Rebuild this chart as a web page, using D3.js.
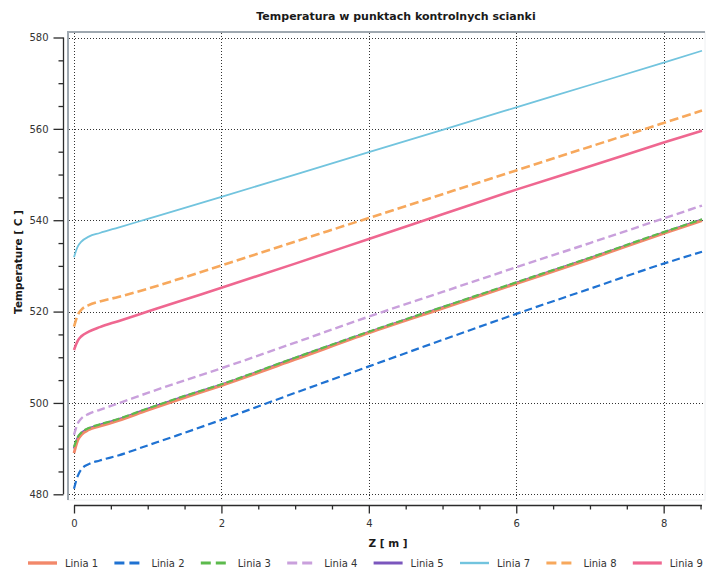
<!DOCTYPE html>
<html>
<head>
<meta charset="utf-8">
<script src="https://cdn.jsdelivr.net/npm/d3@7"></script>
<style>
  body { margin: 0; background: #fff; }
  text { font-family: "DejaVu Sans", Verdana, sans-serif; }
</style>
</head>
<body>
<script>
// z positions along the wall [m], shared by all series
var zValues = [0, 0.05, 0.1, 0.2, 0.35, 0.6, 1, 1.4, 2, 3, 4, 5, 6, 7, 8, 8.52];

var linia1 = [489.0, 491.8, 493.0, 494.1, 494.9, 496.1, 498.4, 500.6, 503.8, 509.5, 515.3, 520.7, 526.1, 531.5, 537.1, 539.9];
var linia2 = [481.2, 484.0, 485.5, 486.6, 487.4, 488.5, 490.7, 492.9, 496.3, 502.2, 508.0, 513.8, 519.5, 525.0, 530.5, 533.1];
var linia3 = [490.4, 492.5, 493.5, 494.5, 495.3, 496.5, 498.8, 501.0, 504.1, 509.9, 515.6, 521.0, 526.4, 531.8, 537.4, 540.2];
var linia4 = [493.0, 495.5, 496.6, 497.6, 498.5, 499.9, 502.2, 504.4, 507.6, 513.2, 518.9, 524.3, 529.7, 535.0, 540.4, 543.2];
var linia5 = [490.0, 492.3, 493.4, 494.4, 495.2, 496.4, 498.7, 500.9, 504.0, 509.8, 515.5, 520.9, 526.3, 531.7, 537.3, 540.1];
var linia7 = [531.9, 534.2, 535.3, 536.4, 537.2, 538.4, 540.3, 542.2, 545.1, 550.0, 554.9, 559.8, 564.7, 569.6, 574.5, 577.1];
var linia8 = [516.7, 519.2, 520.4, 521.4, 522.2, 523.2, 525.0, 527.0, 530.1, 535.3, 540.5, 545.7, 550.9, 556.1, 561.3, 564.0];
var linia9 = [511.6, 513.6, 514.6, 515.6, 516.6, 517.9, 520.0, 522.1, 525.2, 530.5, 535.9, 541.3, 546.7, 551.8, 557.0, 559.6];

var seriesNames = ["Linia 1", "Linia 2", "Linia 3", "Linia 4", "Linia 5", "Linia 7", "Linia 8", "Linia 9"];
var seriesValues = [linia1, linia2, linia3, linia4, linia5, linia7, linia8, linia9];

var yTicks = [480, 500, 520, 540, 560, 580];
var xTicks = [0, 2, 4, 6, 8];

// styles per series (same order as names)
var styles = [
  {color: "#f2886a", width: 2.8, dash: null},
  {color: "#1f72d2", width: 2.2, dash: "8,4"},
  {color: "#5cba4c", width: 2.2, dash: "7,3"},
  {color: "#c9a0dc", width: 2.4, dash: "8,4"},
  {color: "#7b56bd", width: 2.4, dash: null},
  {color: "#72c4de", width: 1.8, dash: null},
  {color: "#f7a85c", width: 2.6, dash: "9,4"},
  {color: "#ef6790", width: 2.6, dash: null}
];
var drawOrder = [4, 0, 1, 2, 3, 5, 6, 7];

var width = 712;
var height = 574;

var svg = d3.select("body")
  .append("svg")
  .attr("width", width)
  .attr("height", height);

var x = d3.scaleLinear().domain([0, 8.52]).range([74, 702]);
var y = d3.scaleLinear().domain([480, 580]).range([494.3, 37.5]);

var canvas = {left: 68, top: 32, right: 705, bottom: 500};

// title
svg.append("text")
  .attr("x", 396)
  .attr("y", 20)
  .attr("text-anchor", "middle")
  .style("font-size", "11px")
  .style("font-weight", "bold")
  .attr("fill", "#1a1a1a")
  .text("Temperatura w punktach kontrolnych scianki");

// plot canvas frame
svg.append("rect")
  .attr("x", canvas.left)
  .attr("y", canvas.top)
  .attr("width", canvas.right - canvas.left)
  .attr("height", canvas.bottom - canvas.top)
  .attr("fill", "#fff")
  .attr("stroke", "#eef0f2")
  .attr("stroke-width", 1);

svg.append("path")
  .attr("d", "M" + canvas.left + "," + canvas.bottom + "V" + canvas.top + "H" + canvas.right)
  .attr("fill", "none")
  .attr("stroke", "#9fa8b0")
  .attr("stroke-width", 2);

// grid
var grid = svg.append("g").attr("stroke", "#333").attr("stroke-width", 1).attr("stroke-dasharray", "1,2");

grid.selectAll("line.h")
  .data(yTicks)
  .enter()
  .append("line")
  .attr("x1", canvas.left + 1)
  .attr("x2", canvas.right)
  .attr("y1", function(d) { return Math.round(y(d)) + 0.5; })
  .attr("y2", function(d) { return Math.round(y(d)) + 0.5; });

grid.selectAll("line.v")
  .data(xTicks)
  .enter()
  .append("line")
  .attr("y1", canvas.top + 1)
  .attr("y2", canvas.bottom)
  .attr("x1", function(d) { return Math.round(x(d)) + 0.5; })
  .attr("x2", function(d) { return Math.round(x(d)) + 0.5; });

// lines
var line = d3.line()
  .x(function(d) { return x(d[0]); })
  .y(function(d) { return y(d[1]); })
  .curve(d3.curveMonotoneX);

drawOrder.forEach(function(i) {
  var pts = zValues.map(function(z, j) { return [z, seriesValues[i][j]]; });
  svg.append("path")
    .datum(pts)
    .attr("fill", "none")
    .attr("stroke", styles[i].color)
    .attr("stroke-width", styles[i].width)
    .attr("stroke-dasharray", styles[i].dash)
    .attr("d", line);
});

// y axis (left of canvas)
var yMinor = d3.range(480, 581, 5);
var gy = svg.append("g").attr("transform", "translate(63.5,0)");
gy.call(d3.axisLeft(y).tickValues(yMinor).tickSize(5).tickFormat(""));
gy.call(function(g) {
  g.selectAll(".tick").filter(function(d) { return d % 20 === 0; })
    .select("line").attr("x2", -10);
  g.selectAll(".tick").filter(function(d) { return d % 20 === 0; })
    .select("text")
    .attr("x", -15)
    .text(function(d) { return d; });
});
gy.select(".domain").attr("d", "M0," + y(480) + "V" + y(580));
gy.selectAll("line, path").attr("stroke", "#2b2b2b").attr("stroke-width", 1.3);
gy.selectAll("text").attr("fill", "#333").style("font-size", "10px");

// x axis
var xMinor = d3.range(0, 8.51, 0.5);
var gx = svg.append("g").attr("transform", "translate(0,505.5)");
gx.call(d3.axisBottom(x).tickValues(xMinor).tickSize(4).tickFormat(""));
gx.call(function(g) {
  g.selectAll(".tick").filter(function(d) { return d % 2 === 0; })
    .select("line").attr("y2", 8);
  g.selectAll(".tick").filter(function(d) { return d % 2 === 0; })
    .select("text")
    .attr("y", 14)
    .text(function(d) { return d; });
});
gx.select(".domain").attr("d", "M" + x(0) + ",0H" + x(8.52));
gx.selectAll("line, path").attr("stroke", "#2b2b2b").attr("stroke-width", 1.3);
gx.selectAll("text").attr("fill", "#333").style("font-size", "10px");

// axis titles
svg.append("text")
  .attr("x", 388)
  .attr("y", 547)
  .attr("text-anchor", "middle")
  .style("font-size", "10.5px")
  .style("font-weight", "bold")
  .attr("fill", "#1a1a1a")
  .text("Z [ m ]");

svg.append("text")
  .attr("transform", "translate(22,262) rotate(-90)")
  .attr("text-anchor", "middle")
  .style("font-size", "10.5px")
  .style("font-weight", "bold")
  .attr("fill", "#1a1a1a")
  .text("Temperature [ C ]");

// legend
var legend = svg.append("g")
  .selectAll("g")
  .data(seriesNames)
  .enter()
  .append("g")
  .attr("transform", function(d, i) { return "translate(" + (28 + i * 86.4) + ",563)"; });

legend.append("line")
  .attr("x1", 0)
  .attr("x2", 29)
  .attr("y1", 0)
  .attr("y2", 0)
  .attr("stroke", function(d, i) { return styles[i].color; })
  .attr("stroke-width", function(d, i) { return styles[i].width + 0.6; })
  .attr("stroke-dasharray", function(d, i) { return styles[i].dash ? "10,5" : null; });

legend.append("text")
  .attr("x", 37)
  .attr("y", 4)
  .attr("fill", "#333")
  .style("font-size", "10px")
  .text(function(d) { return d; });
</script>
</body>
</html>
